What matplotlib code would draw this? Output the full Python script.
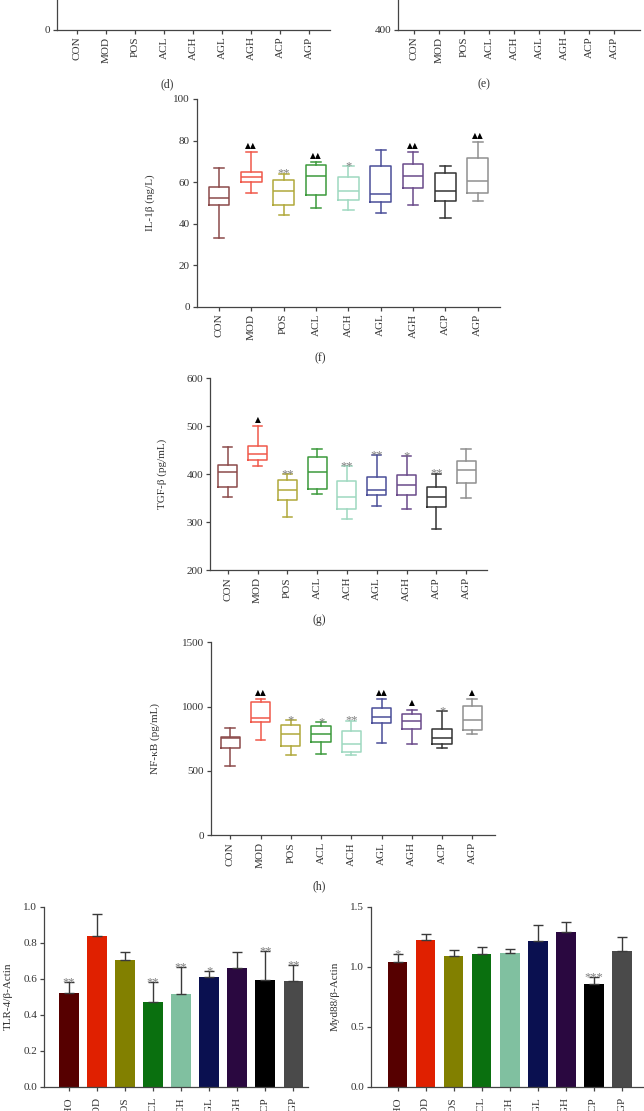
import matplotlib
matplotlib.use("Agg")
import matplotlib.pyplot as plt
import numpy as np

W, H = 644, 1111
plt.rcParams['font.family'] = ['Liberation Serif', 'DejaVu Serif']
plt.rcParams['font.size'] = 8

# ---------------- data ----------------
groups = ["CON", "MOD", "POS", "ACL", "ACH", "AGL", "AGH", "ACP", "AGP"]
bar_groups = ["CHO", "MOD", "POS", "ACL", "ACH", "AGL", "AGH", "ACP", "AGP"]

box_colors = ["#8B4A4A", "#F0584A", "#B0A83A", "#3C9A3C", "#9ED8C0",
              "#4A4E98", "#6A4A8A", "#333333", "#909090"]
bar_colors = ["#560000", "#E02000", "#828000", "#0A700F", "#80C0A0",
              "#0A1050", "#2A0840", "#000000", "#4A4A4A"]

# IL-1beta (ng/L)
il_lo = [33.2, 54.9, 44.3, 47.4, 46.7, 45.1, 49.0, 42.5, 50.7]
il_q1 = [49.0, 59.9, 49.0, 53.8, 51.2, 50.2, 57.3, 50.7, 54.7]
il_med = [52.2, 62.4, 55.5, 62.8, 55.5, 54.1, 62.8, 55.7, 60.7]
il_q3 = [57.5, 65.0, 60.8, 68.4, 62.3, 67.7, 68.5, 64.2, 71.7]
il_hi = [66.9, 74.3, 64.0, 69.8, 67.6, 75.4, 74.3, 67.7, 79.1]
il_sig = ["", "▲▲", "**", "▲▲", "*", "", "▲▲", "", "▲▲"]

# TGF-beta (pg/mL)
tg_lo = [353, 418, 310, 359, 306, 333, 327, 285, 351]
tg_q1 = [373, 429, 346, 368, 327, 356, 356, 332, 381]
tg_med = [404, 442, 366, 404, 352, 366, 378, 352, 408]
tg_q3 = [419, 458, 387, 435, 386, 394, 399, 374, 427]
tg_hi = [456, 500, 400, 452, 417, 439, 437, 401, 452]
tg_sig = ["", "▲", "**", "", "**", "**", "*", "**", ""]

# NF-kB (pg/mL)
nf_lo = [541, 741, 622, 632, 622, 718, 707, 679, 790]
nf_q1 = [676, 878, 692, 723, 650, 873, 824, 710, 816]
nf_med = [754, 914, 785, 785, 710, 922, 889, 754, 894]
nf_q3 = [764, 1036, 860, 847, 811, 992, 943, 824, 1003]
nf_hi = [832, 1057, 894, 878, 891, 1057, 977, 964, 1057]
nf_sig = ["", "▲▲", "*", "*", "**", "▲▲", "▲", "*", "▲"]

# TLR-4 / beta-Actin
tlr_mean = [0.519, 0.839, 0.702, 0.470, 0.513, 0.611, 0.661, 0.593, 0.587]
tlr_err = [0.061, 0.120, 0.046, 0.110, 0.150, 0.032, 0.089, 0.159, 0.087]
tlr_sig = ["**", "", "", "**", "**", "*", "", "**", "**"]

# Myd88 / beta-Actin
myd_mean = [1.042, 1.222, 1.086, 1.103, 1.114, 1.214, 1.289, 0.853, 1.133]
myd_err = [0.064, 0.050, 0.056, 0.061, 0.036, 0.136, 0.086, 0.061, 0.111]
myd_sig = ["*", "", "", "", "", "", "", "***", ""]

# ---------------- figure ----------------
fig = plt.figure(figsize=(W / 100, H / 100), dpi=100)

AX_COL = "#444444"
TXT_COL = "#333333"


def add_ax(left, top, right, bottom):
    return fig.add_axes([left / W, 1 - bottom / H, (right - left) / W, (bottom - top) / H])


def style(ax):
    for s in ["top", "right"]:
        ax.spines[s].set_visible(False)
    for s in ["left", "bottom"]:
        ax.spines[s].set_color(AX_COL)
        ax.spines[s].set_linewidth(0.9)
    ax.tick_params(direction="out", length=3, width=0.9, color=AX_COL,
                   labelcolor=TXT_COL, labelsize=8, pad=2)
    ax.set_facecolor("none")


def xcats(ax, labels, pad=2):
    ax.set_xticks(range(len(labels)))
    ax.set_xticklabels(labels, rotation=90, fontsize=8, color=TXT_COL)
    ax.tick_params(axis="x", pad=pad)


def annotate_sig(ax, xs, tops, sigs):
    for x, t, s in zip(xs, tops, sigs):
        if not s:
            continue
        if "▲" in s:
            ax.annotate(s, xy=(x, t), xytext=(0, 3), textcoords="offset points",
                        ha="center", va="baseline", fontsize=5.5, color="black",
                        family=["DejaVu Sans"])
        else:
            ax.annotate(s, xy=(x, t), xytext=(0, -2.2), textcoords="offset points",
                        ha="center", va="baseline", fontsize=9, color="#7E7E7E")


def boxpanel(ax, lo, q1, med, q3, hi, sig):
    stats = [dict(whislo=a, q1=b, med=c, q3=d, whishi=e, fliers=[])
             for a, b, c, d, e in zip(lo, q1, med, q3, hi)]
    bp = ax.bxp(stats, positions=list(range(len(stats))), widths=0.64,
                showfliers=False, manage_ticks=False)
    for i, c in enumerate(box_colors):
        bp["boxes"][i].set_color(c)
        bp["boxes"][i].set_linewidth(1.1)
        bp["medians"][i].set_color(c)
        bp["medians"][i].set_linewidth(1.1)
        for k in (2 * i, 2 * i + 1):
            bp["whiskers"][k].set_color(c)
            bp["whiskers"][k].set_linewidth(1.1)
            bp["caps"][k].set_color(c)
            bp["caps"][k].set_linewidth(1.1)
    annotate_sig(ax, range(len(stats)), hi, sig)


# ---- (d) bottom part only ----
ax_d = add_ax(57.4, -60, 330, 29.5)
style(ax_d)
ax_d.set_xlim(-0.675, 8.71)
ax_d.set_ylim(0, 100)
ax_d.set_yticks([0, 50, 100])
xcats(ax_d, groups)

# ---- (e) bottom part only ----
ax_e = add_ax(398, -3, 640, 29.5)
style(ax_e)
ax_e.set_xlim(-0.64, 9.04)
ax_e.set_ylim(400, 600)
ax_e.set_yticks([400, 600])
xcats(ax_e, groups)

fig.text(167 / W, 1 - 84 / H, "(d)", ha="center", va="center", fontsize=8.5, color=TXT_COL)
fig.text(484 / W, 1 - 84 / H, "(e)", ha="center", va="center", fontsize=8.5, color=TXT_COL)

# ---- (f) IL-1beta ----
ax_f = add_ax(196.7, 99, 500, 306.7)
style(ax_f)
boxpanel(ax_f, il_lo, il_q1, il_med, il_q3, il_hi, il_sig)
ax_f.set_xlim(-0.69, 8.69)
ax_f.set_ylim(0, 100)
ax_f.set_yticks([0, 20, 40, 60, 80, 100])
xcats(ax_f, groups)
fig.text(150 / W, 1 - 203 / H, "IL-1β (ng/L)", rotation=90, ha="center", va="center",
         fontsize=8, color=TXT_COL)
fig.text(320 / W, 1 - 358 / H, "(f)", ha="center", va="center", fontsize=8.5, color=TXT_COL)

# ---- (g) TGF-beta ----
ax_g = add_ax(210, 378.3, 486.7, 570)
style(ax_g)
boxpanel(ax_g, tg_lo, tg_q1, tg_med, tg_q3, tg_hi, tg_sig)
ax_g.set_xlim(-0.594, 8.69)
ax_g.set_ylim(200, 600)
ax_g.set_yticks([200, 300, 400, 500, 600])
xcats(ax_g, groups)
fig.text(161.7 / W, 1 - 474 / H, "TGF-β (pg/mL)", rotation=90, ha="center", va="center",
         fontsize=8, color=TXT_COL)
fig.text(319 / W, 1 - 620 / H, "(g)", ha="center", va="center", fontsize=8.5, color=TXT_COL)

# ---- (h) NF-kB ----
ax_h = add_ax(210.7, 642.3, 495, 835.3)
style(ax_h)
boxpanel(ax_h, nf_lo, nf_q1, nf_med, nf_q3, nf_hi, nf_sig)
ax_h.set_xlim(-0.648, 8.75)
ax_h.set_ylim(0, 1500)
ax_h.set_yticks([0, 500, 1000, 1500])
xcats(ax_h, groups)
fig.text(155 / W, 1 - 739 / H, "NF-κB (pg/mL)", rotation=90, ha="center", va="center",
         fontsize=8, color=TXT_COL)
fig.text(319 / W, 1 - 886 / H, "(h)", ha="center", va="center", fontsize=8.5, color=TXT_COL)


# ---- bar charts ----
def barpanel(ax, means, errs, sigs):
    x = np.arange(len(means))
    ax.bar(x, means, width=0.70, color=bar_colors, edgecolor="none", zorder=2)
    ax.errorbar(x, means, yerr=[np.zeros(len(errs)), errs], fmt="none",
                ecolor="#3A3A3A", elinewidth=1.0, capsize=3.5, capthick=1.0, zorder=3)
    tops = [m + e for m, e in zip(means, errs)]
    annotate_sig(ax, x, tops, sigs)


ax_i = add_ax(44.3, 906.7, 308, 1086.7)
style(ax_i)
barpanel(ax_i, tlr_mean, tlr_err, tlr_sig)
ax_i.set_xlim(-0.868, 8.52)
ax_i.set_ylim(0, 1.0)
ax_i.set_yticks([0.0, 0.2, 0.4, 0.6, 0.8, 1.0])
ax_i.set_yticklabels(["0.0", "0.2", "0.4", "0.6", "0.8", "1.0"])
xcats(ax_i, bar_groups, pad=4.5)
fig.text(8.5 / W, 1 - 996.7 / H, "TLR-4/β-Actin", rotation=90, ha="center", va="center",
         fontsize=8, color=TXT_COL)

ax_j = add_ax(371, 906.7, 648, 1086.7)
style(ax_j)
barpanel(ax_j, myd_mean, myd_err, myd_sig)
ax_j.set_xlim(-0.945, 8.93)
ax_j.set_ylim(0, 1.5)
ax_j.set_yticks([0.0, 0.5, 1.0, 1.5])
ax_j.set_yticklabels(["0.0", "0.5", "1.0", "1.5"])
xcats(ax_j, bar_groups, pad=4.5)
fig.text(335 / W, 1 - 996.7 / H, "Myd88/β-Actin", rotation=90, ha="center", va="center",
         fontsize=8, color=TXT_COL)

fig.savefig("out.png", dpi=100, facecolor="white")
